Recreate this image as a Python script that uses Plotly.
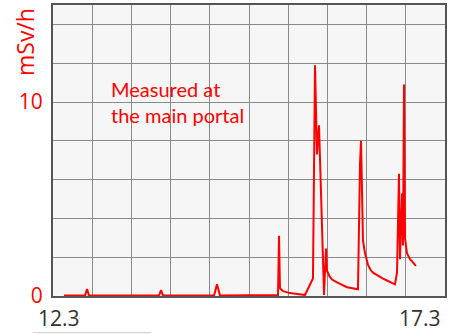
import plotly.graph_objects as go

# time in days (March 12.0 = 12), dose rate in mSv/h
t = [12.140, 12.408, 12.434, 12.459, 13.352, 13.378, 13.403, 14.054, 14.092, 14.130,
     14.870, 14.883, 14.895, 14.934, 15.023, 15.214, 15.316, 15.329, 15.342, 15.367,
     15.393, 15.457, 15.482, 15.495, 15.530, 15.559, 15.622, 15.750, 15.890, 15.916, 15.929,
     15.954, 15.980, 16.018, 16.050, 16.082, 16.140, 16.209, 16.260, 16.362, 16.388, 16.413, 16.426,
     16.452, 16.464, 16.477, 16.490, 16.515, 16.554, 16.630]
dose = [0.02, 0.02, 0.36, 0.02, 0.02, 0.30, 0.02, 0.02, 0.60, 0.02,
        0.05, 3.10, 0.40, 0.25, 0.15, 0.05, 0.90, 8.10, 11.9, 7.30,
        8.80, 0.05, 2.45, 1.30, 1.00, 0.85, 0.70, 0.45, 0.35, 6.80, 8.00,
        2.85, 2.20, 1.60, 1.35, 1.20, 1.05, 0.90, 0.80, 0.60, 1.20, 6.30, 1.90,
        5.30, 2.60, 10.9, 3.00, 2.20, 1.90, 1.55]

y_tickvals = [0, 2, 4, 6, 8, 10, 12, 14]
y_ticktext = ["0", "", "", "", "", "10", "", ""]
x_gridvals = [12 + 0.5 * i for i in range(11)]
x_labels = ["12.3", "17.3"]

fig = go.Figure()
fig.add_trace(go.Scatter(x=t, y=dose, mode="lines",
                         line=dict(color="#ff0000", width=2), hoverinfo="skip"))

fig.update_layout(
    width=450, height=334,
    margin=dict(l=53, r=5, t=3, b=38),
    paper_bgcolor="white", plot_bgcolor="#f6f6f6",
    showlegend=False,
    xaxis=dict(range=[12, 17], tickvals=x_gridvals, showticklabels=False,
               showgrid=True, gridcolor="#8a8a8a", gridwidth=1.3,
               showline=True, linecolor="#555555", linewidth=2, mirror=True,
               zeroline=False, ticks=""),
    yaxis=dict(range=[0, 15], tickvals=y_tickvals, ticktext=y_ticktext,
               showgrid=True, gridcolor="#8a8a8a", gridwidth=1.3,
               showline=True, linecolor="#555555", linewidth=2, mirror=True,
               zeroline=False, ticks="", ticklabelstandoff=4,
               tickfont=dict(family="Open Sans", size=21, color="#ff0000")),
)

fig.add_annotation(text="mSv/h", xref="paper", yref="paper",
                   x=-0.072, y=0.872, textangle=-90, showarrow=False,
                   xanchor="center", yanchor="middle",
                   font=dict(family="Open Sans", size=23, color="#ff0000"))

fig.add_annotation(text="Measured at<br>the main portal", xref="paper", yref="paper",
                   x=0.143, y=0.665, showarrow=False, align="left",
                   xanchor="left", yanchor="middle",
                   font=dict(family="Lato", size=20, color="#ff0000"))

for xv, lab in zip([0.016, 0.936], x_labels):
    fig.add_annotation(text=lab, xref="paper", yref="paper", x=xv, y=-0.075,
                       showarrow=False, xanchor="center", yanchor="middle",
                       font=dict(family="Open Sans", size=21, color="#333333"))

fig.add_shape(type="line", xref="paper", yref="paper", x0=-0.05, x1=0.25,
              y0=-0.126, y1=-0.126, line=dict(color="#cccccc", width=1))

fig.write_html("out.html")
